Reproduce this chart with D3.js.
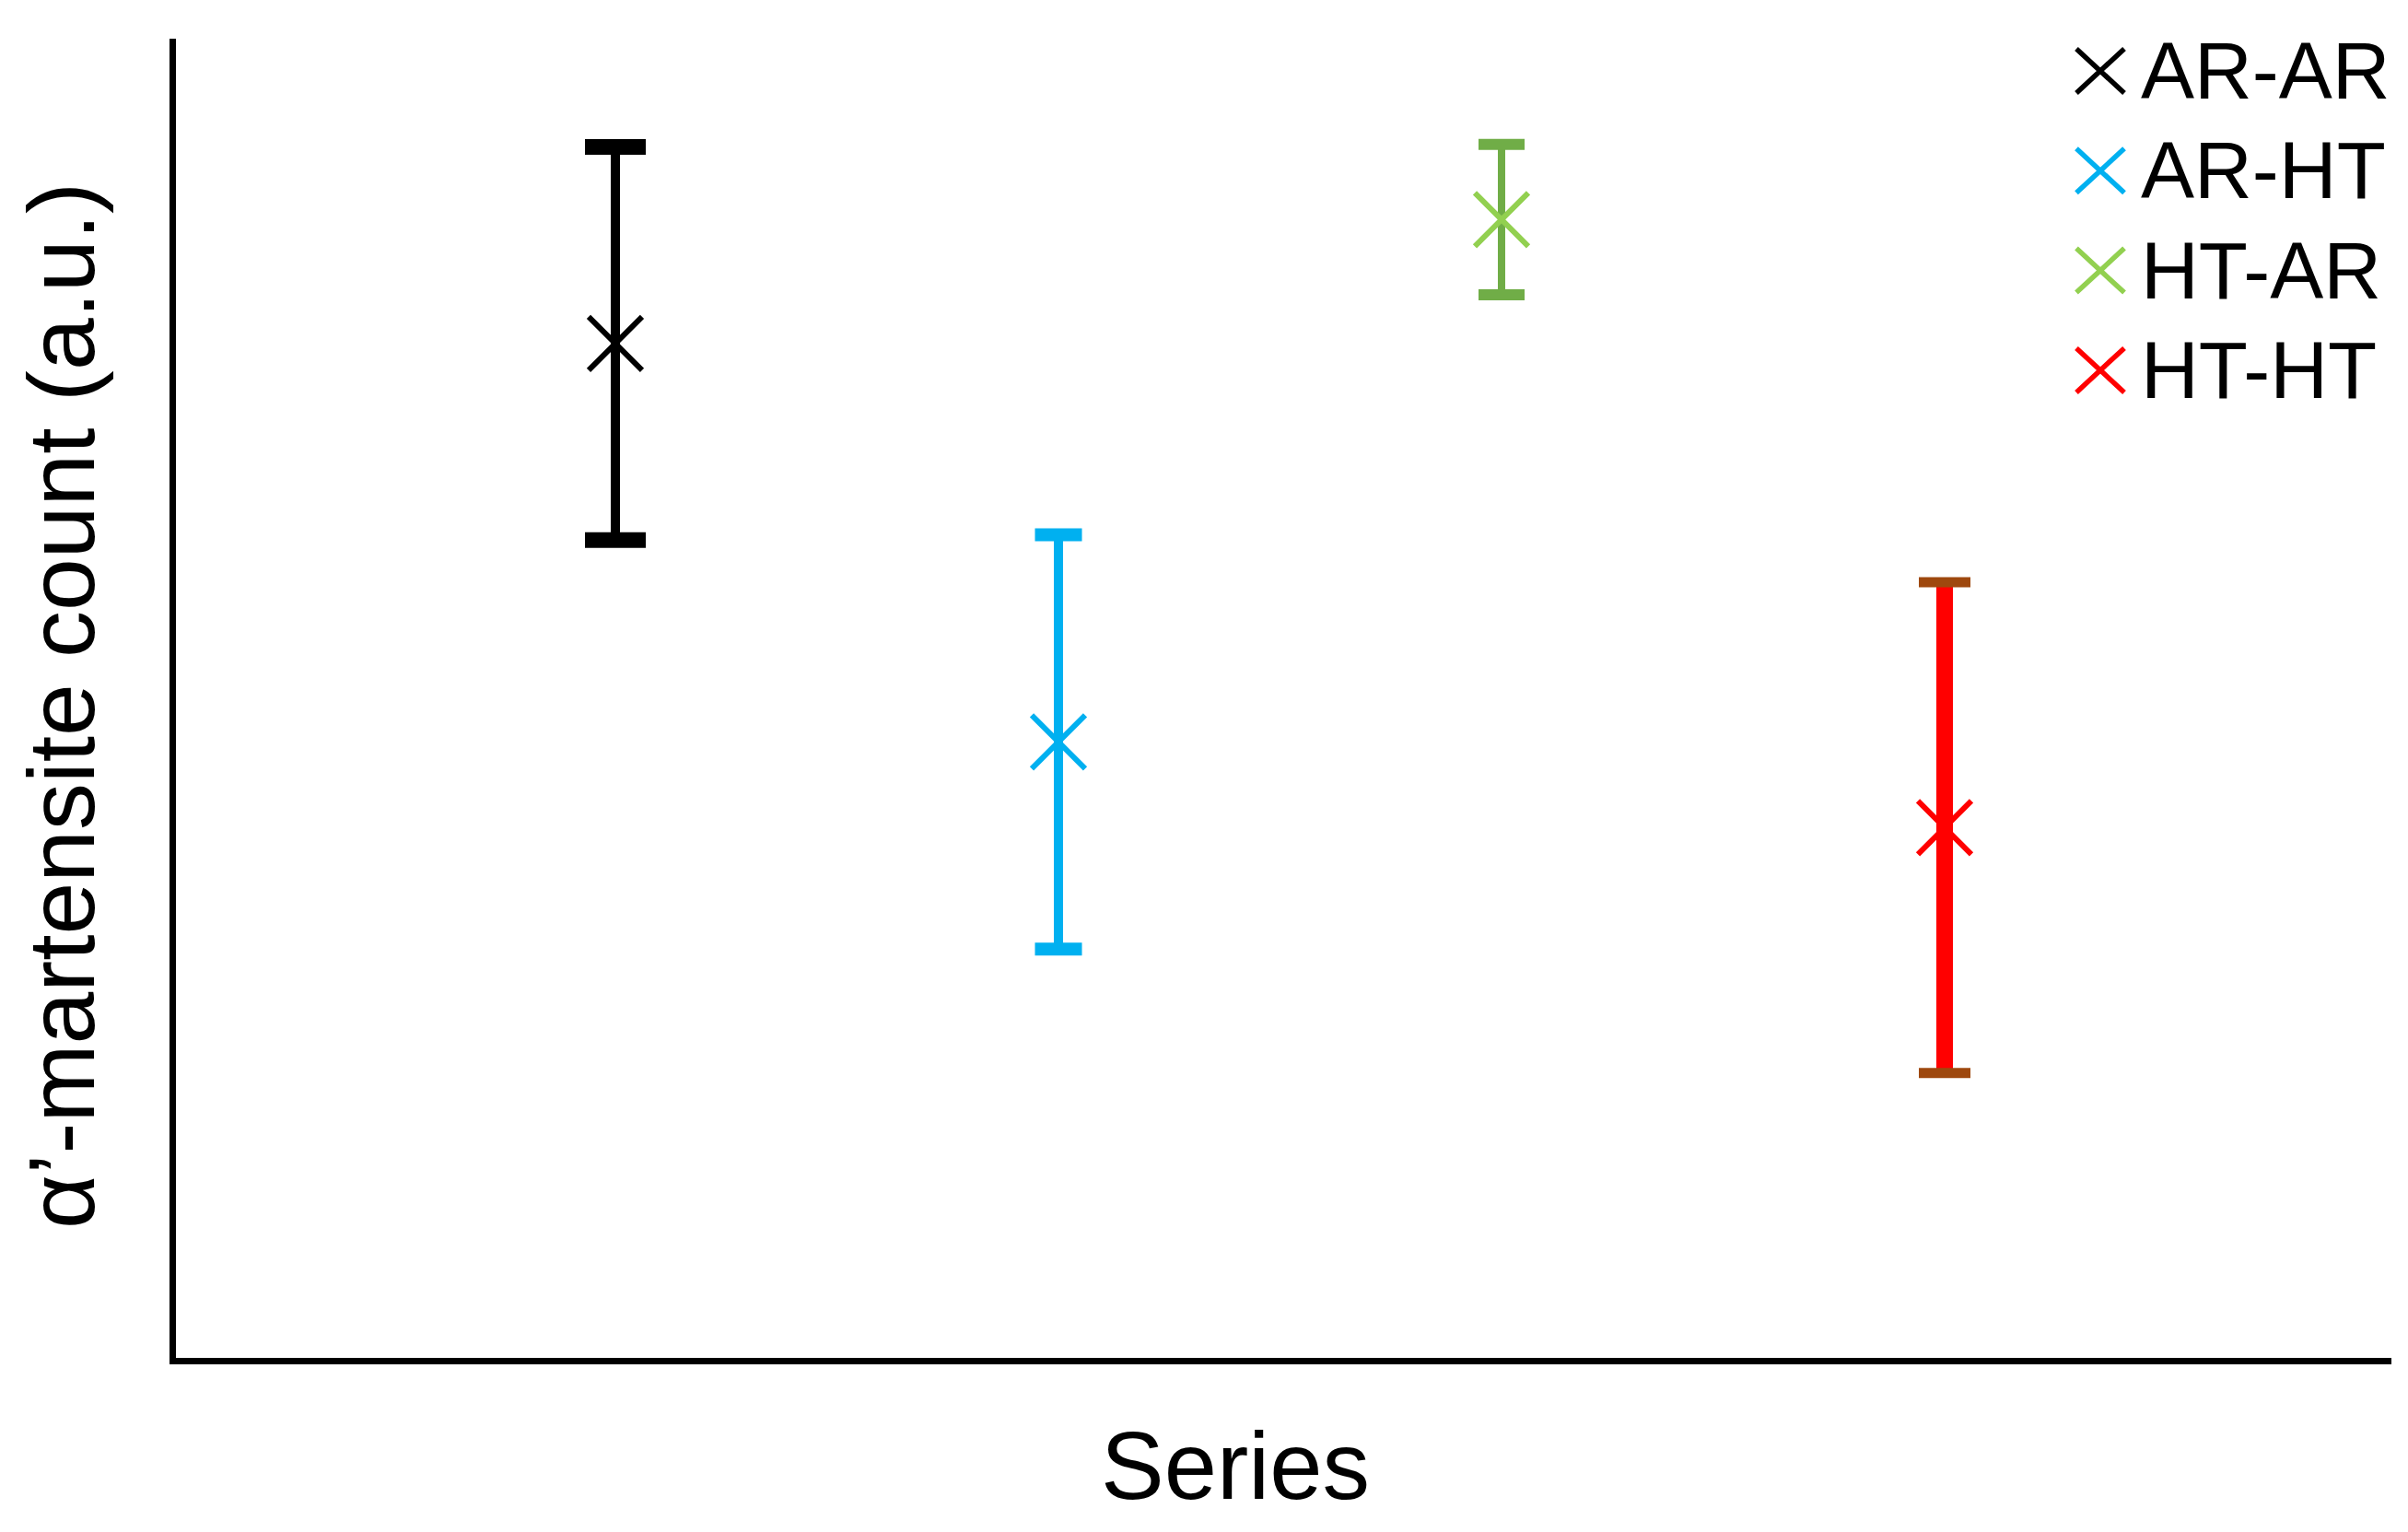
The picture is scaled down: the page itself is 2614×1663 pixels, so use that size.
<!DOCTYPE html>
<html>
<head>
<meta charset="utf-8">
<script src="https://cdn.jsdelivr.net/npm/d3@7"></script>
<style>
  body { margin: 0; background: #fff; }
  svg { display: block; }
  text { font-family: "Liberation Sans", Arial, sans-serif; fill: #000; }
</style>
</head>
<body>
<div class="content"></div>
<script>

// data (arbitrary units, axis 0..100)
var series = ['AR-AR', 'AR-HT', 'HT-AR', 'HT-HT'];
var means = [77.1, 46.9, 86.5, 40.4];
var errors = [14.9, 15.7, 5.7, 18.6];

// look of each series
var markColor = ['#000000', '#00B0F0', '#92D050', '#FF0000'];
var barColor = ['#000000', '#00B0F0', '#70AD47', '#FF0000'];
var capColor = ['#000000', '#00B0F0', '#70AD47', '#9E480E'];
var stemWidth = [10, 10, 8, 18];
var capWidth = [66, 51, 50, 56];
var capThick = [17, 14, 12, 11];

var width = 2614,
    height = 1663

var x = d3.scaleLinear().domain([0, series.length + 1]).range([187, 2592])
var y = d3.scaleLinear().domain([0, 100]).range([1477, 45])

var svg = d3.select('div.content').append('svg')
    .attr('width', width)
    .attr('height', height)

// axes, no ticks
svg.append('g')
    .attr('transform', 'translate(0,' + y(0) + ')')
    .call(d3.axisBottom(x).tickValues([]).tickSizeOuter(0))
    .select('.domain')
        .attr('stroke', '#000')
        .attr('stroke-width', 7)
        .attr('stroke-linecap', 'square')

svg.append('g')
    .attr('transform', 'translate(' + x(0) + ',0)')
    .call(d3.axisLeft(y).tickValues([]).tickSizeOuter(0))
    .select('.domain')
        .attr('stroke', '#000')
        .attr('stroke-width', 7)
        .attr('stroke-linecap', 'square')

var rows = series.map(function(s, i) {
    return { name: s, i: i, mean: means[i], err: errors[i] }
})

var g = svg.selectAll('g.point')
    .data(rows)
    .enter()
    .append('g')
        .attr('class', 'point')

// error bar stems
g.append('line')
    .attr('x1', function(d) { return x(d.i + 1) })
    .attr('x2', function(d) { return x(d.i + 1) })
    .attr('y1', function(d) { return y(d.mean + d.err) })
    .attr('y2', function(d) { return y(d.mean - d.err) })
    .attr('stroke', function(d) { return barColor[d.i] })
    .attr('stroke-width', function(d) { return stemWidth[d.i] })

// caps
;[1, -1].forEach(function(sign) {
    g.append('line')
        .attr('x1', function(d) { return x(d.i + 1) - capWidth[d.i] / 2 })
        .attr('x2', function(d) { return x(d.i + 1) + capWidth[d.i] / 2 })
        .attr('y1', function(d) { return y(d.mean + sign * d.err) })
        .attr('y2', function(d) { return y(d.mean + sign * d.err) })
        .attr('stroke', function(d) { return capColor[d.i] })
        .attr('stroke-width', function(d) { return capThick[d.i] })
})

function cross(r) {
    return 'M' + (-r) + ',' + (-r) + 'L' + r + ',' + r + 'M' + (-r) + ',' + r + 'L' + r + ',' + (-r)
}

// x markers
g.append('path')
    .attr('d', cross(29))
    .attr('transform', function(d) { return 'translate(' + x(d.i + 1) + ',' + y(d.mean) + ')' })
    .attr('fill', 'none')
    .attr('stroke', function(d) { return markColor[d.i] })
    .attr('stroke-width', 6)

// legend
var legend = svg.selectAll('g.legend')
    .data(rows)
    .enter()
    .append('g')
        .attr('class', 'legend')
        .attr('transform', function(d) { return 'translate(2280,' + (77 + d.i * 108.3) + ')' })

legend.append('path')
    .attr('d', 'M-26,-24L26,24M-26,24L26,-24')
    .attr('fill', 'none')
    .attr('stroke', function(d) { return markColor[d.i] })
    .attr('stroke-width', 5.5)

legend.append('text')
    .attr('x', 44)
    .attr('y', 30)
    .style('font-size', '87px')
    .text(function(d) { return d.name })

// axis titles
svg.append('text')
    .attr('x', 1341)
    .attr('y', 1627)
    .style('font-size', '103px')
    .style('text-anchor', 'middle')
    .text('Series')

svg.append('text')
    .attr('transform', 'translate(102,766) rotate(-90)')
    .style('font-size', '102px')
    .style('text-anchor', 'middle')
    .text('α’-martensite count (a.u.)')

</script>
</body>
</html>
